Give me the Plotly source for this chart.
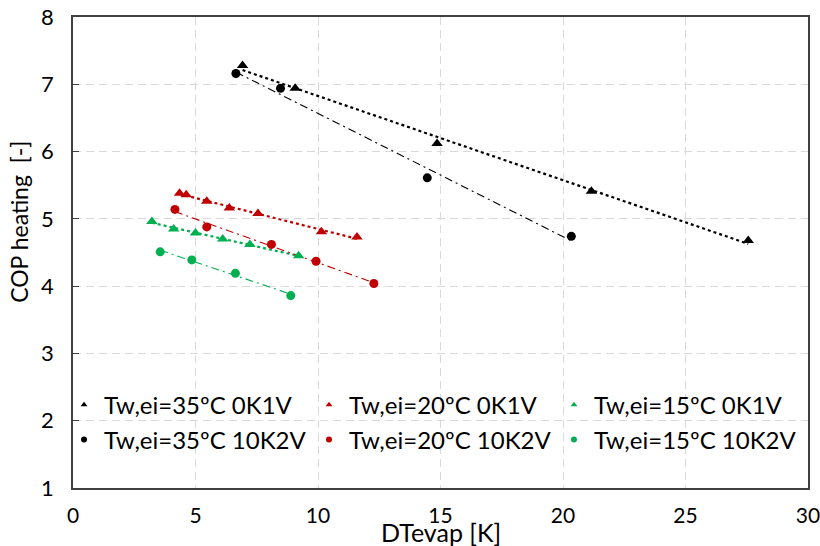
import numpy as np
import plotly.graph_objects as go

# ---- data ----
x35_0k = [6.92, 9.07, 14.86, 21.16, 27.56]
y35_0k = [7.28, 6.94, 6.12, 5.41, 4.68]
x35_10k = [6.65, 8.47, 14.46, 20.34]
y35_10k = [7.16, 6.94, 5.61, 4.74]

x20_0k = [4.35, 4.62, 5.46, 6.38, 7.55, 10.14, 11.59]
y20_0k = [5.38, 5.36, 5.26, 5.16, 5.08, 4.81, 4.73]
x20_10k = [4.16, 5.46, 8.10, 9.92, 12.28]
y20_10k = [5.14, 4.88, 4.62, 4.37, 4.04]

x15_0k = [3.22, 4.11, 5.00, 6.11, 7.22, 9.21]
y15_0k = [4.96, 4.85, 4.79, 4.70, 4.62, 4.45]
x15_10k = [3.56, 4.85, 6.63, 8.89]
y15_10k = [4.51, 4.39, 4.19, 3.86]

names = ["Tw,ei=35ºC 0K1V", "Tw,ei=20ºC 0K1V", "Tw,ei=15ºC 0K1V",
         "Tw,ei=35ºC 10K2V", "Tw,ei=20ºC 10K2V", "Tw,ei=15ºC 10K2V"]
x_ticks = [0, 5, 10, 15, 20, 25, 30]
y_ticks = [1, 2, 3, 4, 5, 6, 7, 8]

BLACK, RED, GREEN = "#000000", "#C00000", "#00B050"
FONT = "Lato, Calibri, Carlito, sans-serif"

series = [
    (x35_0k, y35_0k, BLACK, "triangle-up", names[0]),
    (x20_0k, y20_0k, RED, "triangle-up", names[1]),
    (x15_0k, y15_0k, GREEN, "triangle-up", names[2]),
    (x35_10k, y35_10k, BLACK, "circle", names[3]),
    (x20_10k, y20_10k, RED, "circle", names[4]),
    (x15_10k, y15_10k, GREEN, "circle", names[5]),
]

fig = go.Figure()

# trend lines (linear fits over each series' range)
for xs, ys, col, sym, nm in series:
    xa = np.array(xs)
    ya = np.array(ys)
    k, b = np.polyfit(xa, ya, 1)
    xl = np.array([xa.min(), xa.max()])
    if sym == "triangle-up":
        line = dict(color=col, width=2.2, dash="dot")
    else:
        line = dict(color=col, width=1.1, dash="8px,4px,2px,4px")
    fig.add_trace(go.Scatter(x=xl, y=k * xl + b, mode="lines", line=line,
                             showlegend=False, hoverinfo="skip"))

# markers
for xs, ys, col, sym, nm in series:
    size = 10 if sym == "triangle-up" else 9
    fig.add_trace(go.Scatter(x=xs, y=ys, mode="markers", name=nm,
                             marker=dict(symbol=sym, color=col, size=size),
                             showlegend=False))

# legend entries (small symbols), one legend each, laid out in a 3x2 grid
legend_ids = ["legend", "legend2", "legend3", "legend4", "legend5", "legend6"]
for (xs, ys, col, sym, nm), lg in zip(series, legend_ids):
    fig.add_trace(go.Scatter(x=[None], y=[None], mode="markers", name=nm,
                             marker=dict(symbol=sym, color=col, size=6),
                             legend=lg, showlegend=True))

axis_common = dict(
    showline=True, mirror=True, linecolor="#404040", linewidth=1.5,
    showgrid=True, gridcolor="#d9d9d9", griddash="8px,5px", gridwidth=1,
    zeroline=False, automargin=False,
)

fig.update_xaxes(range=[0, 30.0001], tickvals=x_ticks, ticks="",
                 ticklabelstandoff=8, ticklabeloverflow="allow",
                 tickfont=dict(family=FONT, size=21, color="#000000"),
                 **axis_common)
fig.update_yaxes(range=[1, 8], tickvals=y_ticks, ticks="inside", ticklen=6,
                 tickcolor="#404040", ticklabelstandoff=13,
                 tickfont=dict(family=FONT, size=22, color="#000000"),
                 **axis_common)

leg_common = dict(orientation="h", bgcolor="rgba(0,0,0,0)", borderwidth=0,
                  font=dict(family=FONT, size=24, color="#000000"),
                  xanchor="left", yanchor="middle", itemwidth=30)

col_x = [-0.0122, 0.3211, 0.6544]
row_y = [0.176, 0.102]
legends = {}
for i, lg in enumerate(legend_ids):
    legends[lg] = dict(x=col_x[i % 3], y=row_y[i // 3], **leg_common)

fig.update_layout(
    width=820, height=546,
    margin=dict(l=73, r=12, t=17, b=58),
    paper_bgcolor="white", plot_bgcolor="white",
    font=dict(family=FONT, color="#000000"),
    **legends,
    annotations=[
        dict(text="COP heating  [-]", xref="paper", yref="paper",
             x=-0.0735, y=0.565, xanchor="center", yanchor="middle",
             textangle=-90, showarrow=False,
             font=dict(family=FONT, size=23, color="#000000")),
        dict(text="DTevap [K]", xref="paper", yref="paper",
             x=0.5, y=-0.094, xanchor="center", yanchor="middle",
             showarrow=False,
             font=dict(family=FONT, size=25, color="#000000")),
    ],
)

fig.write_html("out.html")
